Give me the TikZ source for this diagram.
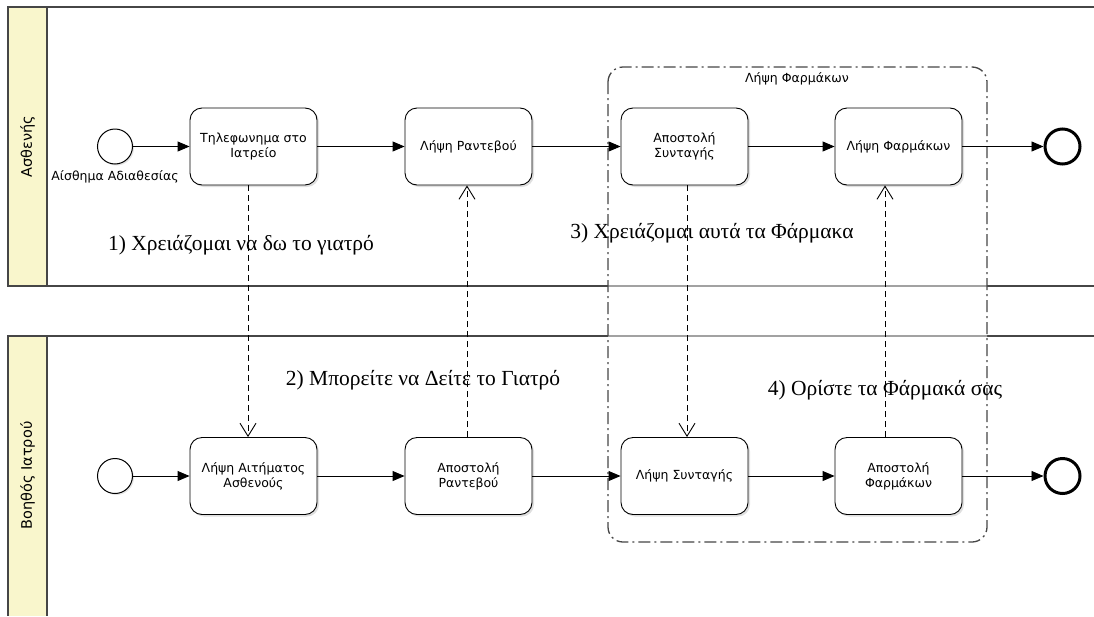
\documentclass[tikz,border=0pt]{standalone}
\usepackage{fontspec}
\setmainfont{Liberation Serif}
\setsansfont{DejaVu Sans}
\usetikzlibrary{arrows.meta,positioning,shadows}
\definecolor{laneyellow}{RGB}{249,246,204}
\definecolor{poolgray}{RGB}{70,70,70}

\begin{document}
\begin{tikzpicture}[
        x=1pt, y=-1pt,
        pool/.style={draw=poolgray, line width=1.5pt},
        lanename/.style={rotate=90, font=\sffamily\fontsize{14.5}{16}\selectfont},
        task/.style={draw, rounded corners=12pt, minimum width=127pt, minimum height=77pt,
            align=center, fill=white, line width=0.9pt,
            font=\sffamily\fontsize{12.5}{15}\selectfont,
            drop shadow={shadow xshift=2pt, shadow yshift=-2pt, fill=black!25}},
        startev/.style={draw, circle, minimum size=35pt, line width=1pt, fill=white,
            drop shadow={shadow xshift=1.5pt, shadow yshift=-1.5pt, fill=black!20}},
        endev/.style={draw, circle, minimum size=35pt, line width=3pt, fill=white},
        evlabel/.style={font=\sffamily\fontsize{12.5}{14}\selectfont},
        seqflow/.style={draw, line width=0.9pt, -{Triangle[length=12pt,width=10pt]}},
        msgflow/.style={draw, line width=0.9pt, dash pattern=on 6pt off 4pt,
            -{Straight Barb[length=13pt,width=16pt,line width=0.9pt]}},
        msglabel/.style={font=\fontsize{21.5}{24}\selectfont},
        group/.style={draw=poolgray, line width=1.3pt, rounded corners=15pt,
            dash pattern=on 12pt off 4pt on 2pt off 4pt, fill=white, fill opacity=0.5}
    ]
    \useasboundingbox (0,0) rectangle (1094,616);

    % pools
    \fill[laneyellow] (8,7) rectangle (47,286);
    \draw[pool] (1094,7) -- (8,7) -- (8,286) -- (1094,286);
    \draw[pool] (47,7) -- (47,286);
    \node[lanename] (lanepatient) at (27.5,146.5) {Ασθενής};

    \fill[laneyellow] (8,336) rectangle (47,616);
    \draw[pool] (1094,336) -- (8,336) -- (8,616);
    \draw[pool] (47,336) -- (47,616);
    \node[lanename] (laneassistant) at (27.5,475.5) {Βοηθός Ιατρού};

    \draw[group] (608,67) rectangle (987,542);
    \node[evlabel] (grouplabel) at (797,79) {Λήψη Φαρμάκων};

    % patient lane
    \node[startev] (s1) at (115,146.5) {};
    \node[evlabel, below=2pt of s1] (s1label) {Αίσθημα Αδιαθεσίας};
    \node[task] (t1) at (253.5,146.5) {Τηλεφωνημα στο\\Ιατρείο};
    \node[task] (t2) at (468.5,146.5) {Λήψη Ραντεβού};
    \node[task] (t3) at (684.5,146.5) {Αποστολή\\Συνταγής};
    \node[task] (t4) at (898.5,146.5) {Λήψη Φαρμάκων};
    \node[endev] (e1) at (1062.5,146.5) {};

    % assistant lane
    \node[startev] (s2) at (115,476) {};
    \node[task] (b1) at (253.5,476) {Λήψη Αιτήματος\\Ασθενούς};
    \node[task] (b2) at (468.5,476) {Αποστολή\\Ραντεβού};
    \node[task] (b3) at (684.5,476) {Λήψη Συνταγής};
    \node[task] (b4) at (898.5,476) {Αποστολή\\Φαρμάκων};
    \node[endev] (e2) at (1062.5,476) {};

    \draw[seqflow] (s1) -- (t1);
    \draw[seqflow] (t1) -- (t2);
    \draw[seqflow] (t2) -- (t3);
    \draw[seqflow] (t3) -- (t4);
    \draw[seqflow] (t4) -- (e1);
    \draw[seqflow] (s2) -- (b1);
    \draw[seqflow] (b1) -- (b2);
    \draw[seqflow] (b2) -- (b3);
    \draw[seqflow] (b3) -- (b4);
    \draw[seqflow] (b4) -- (e2);

    % messages
    \draw[msgflow] ([xshift=-5.5pt]t1.south) -- ([xshift=-5.5pt]b1.north);
    \draw[msgflow] ([xshift=-1.5pt]b2.north) -- ([xshift=-1.5pt]t2.south);
    \draw[msgflow] ([xshift=2.5pt]t3.south) -- ([xshift=2.5pt]b3.north);
    \draw[msgflow] ([xshift=-13.5pt]b4.north) -- ([xshift=-13.5pt]t4.south);

    \node[msglabel] (m1) at (241,245) {1) Χρειάζομαι να δω το γιατρό};
    \node[msglabel] (m2) at (423,380) {2) Μπορείτε να Δείτε το Γιατρό};
    \node[msglabel] (m3) at (712,233) {3) Χρειάζομαι αυτά τα Φάρμακα};
    \node[msglabel] (m4) at (885,390) {4) Ορίστε τα Φάρμακά σας};
\end{tikzpicture}
\end{document}
